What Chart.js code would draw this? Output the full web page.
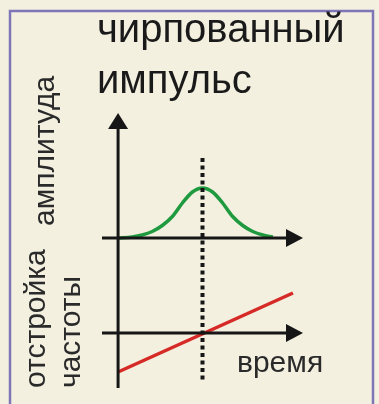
<!DOCTYPE html>
<html>
<head>
<meta charset="utf-8">
<script src="https://cdn.jsdelivr.net/npm/chart.js@4.4.1/dist/chart.umd.min.js"></script>
<style>
  html, body { margin: 0; padding: 0; background: #f3f0e0; overflow: hidden; }
  #chirp { display: block; }
</style>
</head>
<body>
<canvas id="chirp" width="379" height="404"></canvas>
<script>
// --- Data ---
const titleLines = ['чирпованный', 'импульс'];
const amplitudeLabel = 'амплитуда';
const frequencyLabel = ['отстройка', 'частоты'];
const timeLabel = 'время';

// pulse envelope (time in arbitrary units, 0 = pulse centre)
const pulseTimes = [-4.2, -3.5, -3, -2.5, -2, -1.5, -1, -0.5, 0, 0.5, 1, 1.5, 2, 2.5, 3, 3.5];
const pulseAmplitude = [0, 0.02, 0.06, 0.13, 0.25, 0.43, 0.7, 0.92, 1, 0.92, 0.7, 0.43, 0.25, 0.13, 0.06, 0.02];

// frequency detuning (straight chirp)
const chirpTimes = [-4.2, 4.5];
const chirpDetuning = [-1.95, 2.0];

// where the axes and the centre marker sit, in data units
const timeAxisAt = -4.2;
const centreTime = 0;
const amplitudeAxisTop = 2.5;
const detuningAxisBottom = -2.75;
const markerTopAmplitude = 1.6;
const markerBottomDetuning = -2.5;

// --- Plugin: background, frame, axes with arrows, dotted marker and text ---
const sketchPlugin = {
    id: 'sketch',
    beforeDraw: function (chart) {
        const ctx = chart.ctx;
        ctx.save();
        ctx.fillStyle = '#f3f0e0';
        ctx.fillRect(0, 0, chart.width, chart.height);
        ctx.strokeStyle = '#7f76b8';
        ctx.lineWidth = 2.5;
        ctx.strokeRect(10, 11, 363, 420);
        ctx.restore();
    },
    afterDatasetsDraw: function (chart) {
        const ctx = chart.ctx;
        const xs = chart.scales.x;
        const ya = chart.scales.yA;
        const yf = chart.scales.yF;
        const axisX = xs.getPixelForValue(timeAxisAt);
        const left = xs.left;
        const right = xs.right;
        const ampZero = ya.getPixelForValue(0);
        const detZero = yf.getPixelForValue(0);
        const topTip = ya.getPixelForValue(amplitudeAxisTop);
        const bottomEnd = yf.getPixelForValue(detuningAxisBottom);

        ctx.save();
        ctx.strokeStyle = '#161616';
        ctx.fillStyle = '#161616';
        ctx.lineWidth = 3;

        // vertical axis with arrow at the top
        ctx.beginPath();
        ctx.moveTo(axisX, topTip + 10);
        ctx.lineTo(axisX, bottomEnd);
        ctx.stroke();
        ctx.beginPath();
        ctx.moveTo(axisX, topTip);
        ctx.lineTo(axisX - 10, topTip + 16);
        ctx.lineTo(axisX + 10, topTip + 16);
        ctx.closePath();
        ctx.fill();

        // two horizontal axes with arrows at the right
        [ampZero, detZero].forEach(function (y) {
            ctx.beginPath();
            ctx.moveTo(left, y);
            ctx.lineTo(right - 10, y);
            ctx.stroke();
            ctx.beginPath();
            ctx.moveTo(right, y);
            ctx.lineTo(right - 17, y - 9);
            ctx.lineTo(right - 17, y + 9);
            ctx.closePath();
            ctx.fill();
        });

        // dotted marker at the pulse centre
        const cx = xs.getPixelForValue(centreTime);
        ctx.lineWidth = 4;
        ctx.setLineDash([4, 3.5]);
        ctx.beginPath();
        ctx.moveTo(cx, ya.getPixelForValue(markerTopAmplitude));
        ctx.lineTo(cx, yf.getPixelForValue(markerBottomDetuning));
        ctx.stroke();
        ctx.setLineDash([]);

        // title
        ctx.fillStyle = '#1a1a1a';
        ctx.textAlign = 'left';
        ctx.textBaseline = 'alphabetic';
        ctx.font = '40px "Liberation Sans", Arial, sans-serif';
        ctx.fillText(titleLines[0], 97, 42);
        ctx.fillText(titleLines[1], 97, 93);

        // time label
        ctx.fillStyle = '#2a2a2a';
        ctx.font = '30px "Liberation Sans", Arial, sans-serif';
        ctx.fillText(timeLabel, 237, 372);

        // rotated axis labels
        function vertical(text, x, y) {
            ctx.save();
            ctx.translate(x, y);
            ctx.rotate(-Math.PI / 2);
            ctx.fillText(text, 0, 0);
            ctx.restore();
        }
        vertical(amplitudeLabel, 54, 226);
        vertical(frequencyLabel[0], 45, 388);
        vertical(frequencyLabel[1], 80, 388);
        ctx.restore();
    }
};

// --- Chart ---
const ctx = document.getElementById('chirp').getContext('2d');
const chirpChart = new Chart(ctx, {
    type: 'line',
    data: {
        datasets: [
            {
                label: 'амплитуда',
                data: pulseTimes.map(function (t, i) { return { x: t, y: pulseAmplitude[i] }; }),
                yAxisID: 'yA',
                borderColor: '#1f9a3f',
                borderWidth: 3.5,
                pointRadius: 0,
                cubicInterpolationMode: 'monotone',
                fill: false
            },
            {
                label: 'отстройка частоты',
                data: chirpTimes.map(function (t, i) { return { x: t, y: chirpDetuning[i] }; }),
                yAxisID: 'yF',
                borderColor: '#d62a26',
                borderWidth: 3.5,
                pointRadius: 0,
                fill: false
            }
        ]
    },
    options: {
        responsive: false,
        animation: false,
        events: [],
        layout: { padding: { left: 102, right: 76, top: 100, bottom: 4 } },
        plugins: { legend: { display: false }, tooltip: { enabled: false }, title: { display: false } },
        scales: {
            x: { type: 'linear', min: -5, max: 5, display: false },
            yA: { type: 'linear', min: -3.24, max: 2.76, display: false },
            yF: { type: 'linear', min: -3.35, max: 11.65, display: false }
        }
    },
    plugins: [sketchPlugin]
});
</script>
</body>
</html>
